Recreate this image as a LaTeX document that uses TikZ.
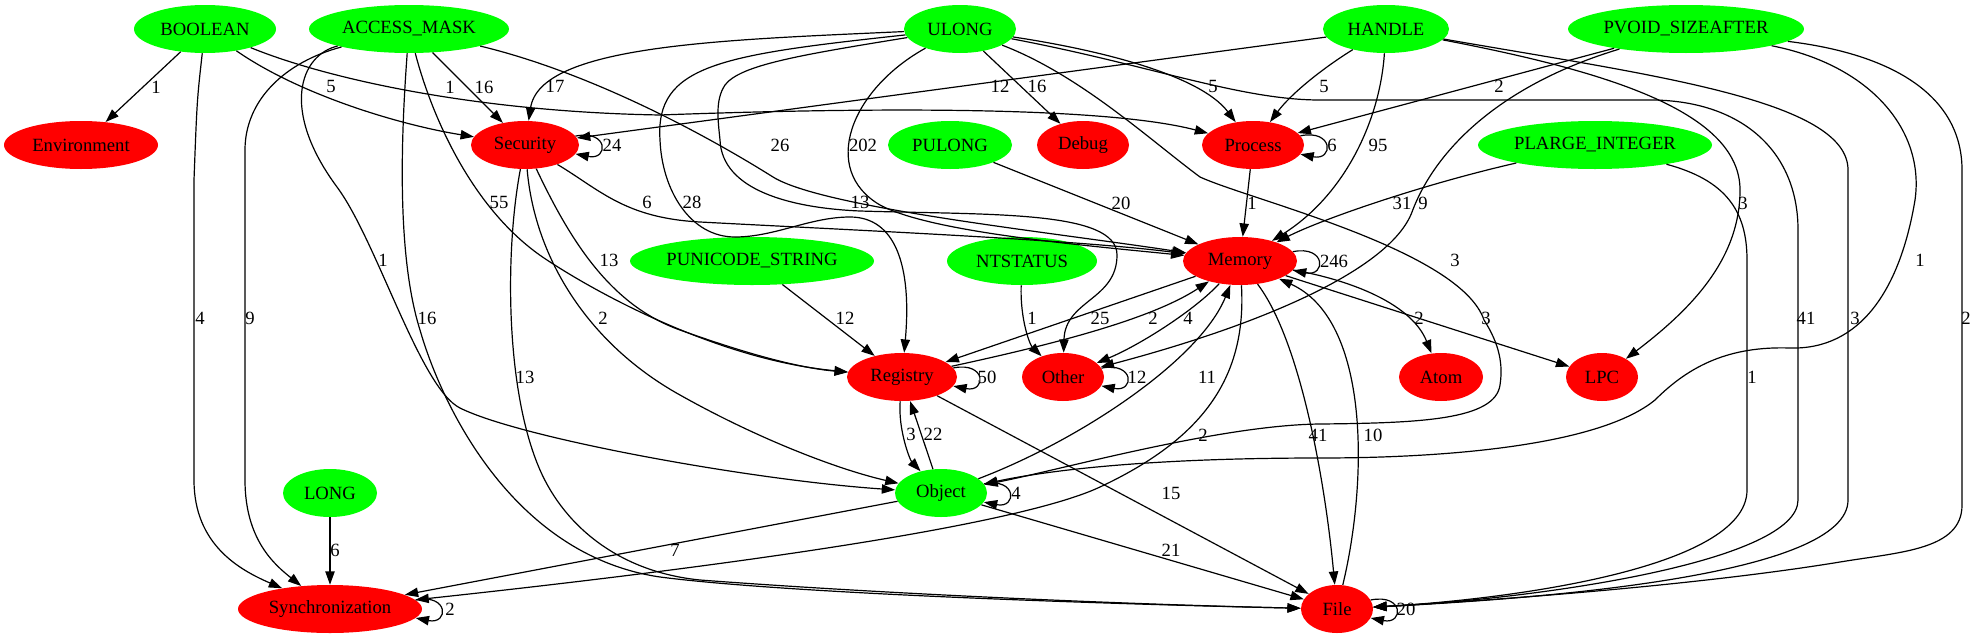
\documentclass[tikz,border=0pt]{standalone}
\usepackage{fontspec}
\setmainfont{Liberation Serif}
\usetikzlibrary{shapes.geometric,arrows.meta}
\definecolor{gvgreen}{RGB}{0,255,0}
\definecolor{gvred}{RGB}{255,0,0}
\begin{document}
\begin{tikzpicture}[x=0.75pt,y=-0.75pt,
  font=\fontsize{14}{17}\selectfont,
  nd/.style={ellipse, inner xsep=-10pt, inner ysep=0pt, minimum height=36pt},
  gn/.style={nd, fill=gvgreen},
  rn/.style={nd, fill=gvred},
  e/.style={draw=black, line width=0.9pt, -{Triangle[length=10pt,width=7pt]}},
  lbl/.style={inner sep=0pt}
]
\useasboundingbox (0,0) rectangle (1976,639);

% nodes
\node[gn, minimum width=106.5pt] (BOOL) at (205,29) {BOOLEAN};
\node[gn, minimum width=150pt] (AM) at (409,29) {ACCESS\_MASK};
\node[gn, minimum width=84pt] (ULONG) at (960,29) {ULONG};
\node[gn, minimum width=94.5pt] (HANDLE) at (1386,29) {HANDLE};
\node[gn, minimum width=177pt] (PVOID) at (1686,29) {PVOID\_SIZEAFTER};
\node[rn, minimum width=115.5pt] (ENV) at (81,145) {Environment};
\node[rn, minimum width=81pt] (SEC) at (525,145) {Security};
\node[gn, minimum width=93pt] (PULONG) at (950,145) {PULONG};
\node[rn, minimum width=69pt] (DEBUG) at (1083,145) {Debug};
\node[rn, minimum width=76.5pt] (PROC) at (1253,145) {Process};
\node[gn, minimum width=175.5pt] (PLARGE) at (1595,145) {PLARGE\_INTEGER};
\node[gn, minimum width=183pt] (PUNI) at (752,261) {PUNICODE\_STRING};
\node[gn, minimum width=112.5pt] (NTS) at (1022,261) {NTSTATUS};
\node[rn, minimum width=85.5pt] (MEM) at (1240,261) {Memory};
\node[rn, minimum width=82.5pt] (REG) at (902,377) {Registry};
\node[rn, minimum width=61.5pt] (OTH) at (1063,377) {Other};
\node[rn, minimum width=63pt] (ATOM) at (1441,377) {Atom};
\node[rn, minimum width=54pt] (LPC) at (1602,377) {LPC};
\node[gn, minimum width=70.5pt] (LONG) at (330,493) {LONG};
\node[gn, minimum width=69pt] (OBJ) at (941,493) {Object};
\node[rn, minimum width=138pt] (SYNC) at (330,609) {Synchronization};
\node[rn, minimum width=54pt] (FILE) at (1337,609) {File};

% BOOLEAN
\draw[e] (BOOL) -- (ENV);
\draw[e] (BOOL) .. controls (300,95) and (400,125) .. (SEC);
\draw[e] (BOOL) .. controls (330,80) and (480,112) .. (660,115) .. controls (850,108) and (1100,105) .. (PROC);
\draw[e] (BOOL) .. controls (197,100) .. (194,180) -- (194,480) .. controls (194,545) and (240,570) .. (SYNC);

% ACCESS_MASK
\draw[e] (AM) -- (SEC);
\draw[e] (AM) .. controls (430,110) and (470,210) .. (547,260) .. controls (600,295) and (720,360) .. (REG);
\draw[e] (AM) .. controls (300,55) and (280,110) .. (337,187) .. controls (377,241) and (420,388) .. (460,408) .. controls (520,438) and (750,480) .. (OBJ);
\draw[e] (AM) .. controls (285,62) and (245,100) .. (245,150) -- (245,480) .. controls (245,540) and (275,565) .. (SYNC);
\draw[e] (AM) .. controls (400,150) and (398,260) .. (420,330) .. controls (440,400) and (510,555) .. (660,577) .. controls (800,595) and (1150,605) .. (FILE);
\draw[e] (AM) .. controls (580,70) and (690,125) .. (773,177) .. controls (823,208) and (1050,232) .. (MEM);

% ULONG
\draw[e] (ULONG) .. controls (720,40) and (540,45) .. (SEC);
\draw[e] (ULONG) .. controls (720,55) and (655,65) .. (660,140) .. controls (662,190) and (690,237) .. (735,237) .. controls (775,237) and (810,217) .. (850,217) .. controls (895,217) and (912,265) .. (REG);
\draw[e] (ULONG) .. controls (850,90) and (820,170) .. (880,205) .. controls (930,232) and (1080,245) .. (MEM);
\draw[e] (ULONG) -- (DEBUG);
\draw[e] (ULONG) .. controls (1100,50) and (1200,75) .. (PROC);
\draw[e] (ULONG) .. controls (1080,75) and (1150,140) .. (1200,177) .. controls (1250,200) and (1460,250) .. (1484,320) .. controls (1500,345) and (1503,365) .. (1500,385) .. controls (1495,420) and (1420,423) .. (1320,424) .. controls (1220,425) and (1060,470) .. (OBJ);
\draw[e] (ULONG) .. controls (1150,65) and (1240,100) .. (1320,100) -- (1650,100) .. controls (1740,100) and (1798,150) .. (1798,230) -- (1798,500) .. controls (1798,560) and (1550,598) .. (FILE);
\draw[e] (ULONG) .. controls (800,55) and (740,65) .. (725,85) .. controls (715,100) and (718,120) .. (720,140) .. controls (722,190) and (790,208) .. (860,211) .. controls (990,215) and (1117,210) .. (1117,255) .. controls (1117,300) and (1065,300) .. (OTH);

% HANDLE
\draw[e] (HANDLE) -- (SEC);
\draw[e] (HANDLE) .. controls (1320,70) and (1290,95) .. (PROC);
\draw[e] (HANDLE) .. controls (1380,120) and (1345,195) .. (MEM);
\draw[e] (HANDLE) .. controls (1600,70) and (1740,110) .. (1740,190) .. controls (1740,260) and (1690,310) .. (LPC);
\draw[e] (HANDLE) .. controls (1650,75) and (1848,100) .. (1848,170) -- (1848,500) .. controls (1848,575) and (1550,598) .. (FILE);

% PVOID_SIZEAFTER
\draw[e] (PVOID) -- (PROC);
\draw[e] (PVOID) .. controls (1500,85) and (1435,150) .. (1412,212) .. controls (1390,270) and (1260,325) .. (OTH);
\draw[e] (PVOID) .. controls (1870,65) and (1925,130) .. (1915,200) .. controls (1900,290) and (1860,350) .. (1790,348) .. controls (1730,346) and (1690,365) .. (1655,400) .. controls (1600,445) and (1450,458) .. (1320,458) .. controls (1150,458) and (1050,470) .. (OBJ);
\draw[e] (PVOID) .. controls (1900,55) and (1962,100) .. (1962,170) -- (1962,505) .. controls (1962,550) and (1900,552) .. (1840,562) .. controls (1700,585) and (1500,600) .. (FILE);

% PLARGE_INTEGER
\draw[e] (PLARGE) .. controls (1420,185) and (1320,220) .. (MEM);
\draw[e] (PLARGE) .. controls (1725,180) and (1747,210) .. (1747,260) -- (1747,490) .. controls (1747,570) and (1500,600) .. (FILE);

% others into Memory / Other / Registry
\draw[e] (PULONG) -- (MEM);
\draw[e] (PROC) -- (MEM);
\draw[e] (NTS) .. controls (1020,320) and (1030,345) .. (OTH);
\draw[e] (PUNI) -- (REG);

% Memory
\draw[e] (MEM) -- (REG);
\draw[e] (REG) .. controls (1050,345) and (1150,320) .. (MEM);
\draw[e] (MEM) .. controls (1195,310) and (1140,345) .. (OTH);
\draw[e] (OBJ) .. controls (1080,440) and (1200,360) .. (MEM);
\draw[e] (MEM) .. controls (1247,380) and (1200,440) .. (1100,487) .. controls (1000,534) and (600,580) .. (SYNC);
\draw[e] (MEM) .. controls (1300,340) and (1325,480) .. (FILE);
\draw[e] (FILE) .. controls (1368,480) and (1370,320) .. (MEM);
\draw[e] (MEM) .. controls (1340,278) and (1410,300) .. (ATOM);
\draw[e] (MEM) -- (LPC);

% Registry / Object
\draw[e] (REG) .. controls (898,430) and (910,460) .. (OBJ);
\draw[e] (OBJ) -- (REG);
\draw[e] (REG) -- (FILE);
\draw[e] (OBJ) -- (FILE);
\draw[e] (OBJ) -- (SYNC);
\draw[e] (LONG) -- (SYNC);

% Security
\draw[e] (SEC) .. controls (600,190) and (625,218) .. (700,222) .. controls (850,230) and (1080,240) .. (MEM);
\draw[e] (SEC) .. controls (570,240) and (610,305) .. (680,330) .. controls (750,355) and (800,368) .. (REG);
\draw[e] (SEC) .. controls (535,260) and (590,345) .. (680,395) .. controls (760,440) and (840,470) .. (OBJ);
\draw[e] (SEC) .. controls (505,250) and (505,390) .. (540,470) .. controls (565,527) and (620,572) .. (700,580) .. controls (900,595) and (1150,605) .. (FILE);

% self loops
\draw[e] (SEC.10) .. controls +(25pt,5pt) and +(25pt,-5pt) .. (SEC.-10);
\draw[e] (PROC.11) .. controls +(25pt,5pt) and +(25pt,-5pt) .. (PROC.-11);
\draw[e] (MEM.10) .. controls +(25pt,5pt) and +(25pt,-5pt) .. (MEM.-10);
\draw[e] (REG.10) .. controls +(25pt,5pt) and +(25pt,-5pt) .. (REG.-10);
\draw[e] (OTH.13) .. controls +(25pt,5pt) and +(25pt,-5pt) .. (OTH.-13);
\draw[e] (OBJ.12) .. controls +(25pt,5pt) and +(25pt,-5pt) .. (OBJ.-12);
\draw[e] (SYNC.6) .. controls +(25pt,5pt) and +(25pt,-5pt) .. (SYNC.-6);
\draw[e] (FILE.15) .. controls +(25pt,5pt) and +(25pt,-5pt) .. (FILE.-15);

% edge labels
\node[lbl] (L1) at (156,87) {1};
\node[lbl] (L2) at (331,86) {5};
\node[lbl] (L3) at (450,87) {1};
\node[lbl] (L4) at (484,87) {16};
\node[lbl] (L5) at (555,86) {17};
\node[lbl] (L6) at (1000,86) {12};
\node[lbl] (L7) at (1037,86) {16};
\node[lbl] (L8) at (1213,86) {5};
\node[lbl] (L9) at (1324,86) {5};
\node[lbl] (L10) at (1499,86) {2};
\node[lbl] (L11) at (780,145) {26};
\node[lbl] (L12) at (863,145) {202};
\node[lbl] (L13) at (612,145) {24};
\node[lbl] (L14) at (1332,145) {6};
\node[lbl] (L15) at (1378,145) {95};
\node[lbl] (L16) at (499,202) {55};
\node[lbl] (L17) at (647,202) {6};
\node[lbl] (L18) at (692,202) {28};
\node[lbl] (L19) at (860,202) {13};
\node[lbl] (L20) at (1121,203) {20};
\node[lbl] (L21) at (1252,203) {1};
\node[lbl] (L22) at (1402,203) {31};
\node[lbl] (L23) at (1423,203) {9};
\node[lbl] (L24) at (1743,203) {3};
\node[lbl] (L25) at (383,260) {1};
\node[lbl] (L26) at (609,260) {13};
\node[lbl] (L27) at (1334,261) {246};
\node[lbl] (L28) at (1455,260) {3};
\node[lbl] (L29) at (1920,260) {1};
\node[lbl] (L30) at (200,318) {4};
\node[lbl] (L31) at (250,318) {9};
\node[lbl] (L32) at (427,318) {16};
\node[lbl] (L33) at (603,318) {2};
\node[lbl] (L34) at (845,318) {12};
\node[lbl] (L35) at (1032,318) {1};
\node[lbl] (L36) at (1100,318) {25};
\node[lbl] (L37) at (1153,318) {2};
\node[lbl] (L38) at (1188,318) {4};
\node[lbl] (L39) at (1419,318) {2};
\node[lbl] (L40) at (1486,318) {3};
\node[lbl] (L41) at (1806,318) {41};
\node[lbl] (L42) at (1855,318) {3};
\node[lbl] (L43) at (1966,318) {2};
\node[lbl] (L44) at (525,377) {13};
\node[lbl] (L45) at (987,377) {50};
\node[lbl] (L46) at (1137,377) {12};
\node[lbl] (L47) at (1207,377) {11};
\node[lbl] (L48) at (1752,377) {1};
\node[lbl] (L49) at (911,434) {3};
\node[lbl] (L50) at (933,434) {22};
\node[lbl] (L51) at (1203,435) {2};
\node[lbl] (L52) at (1318,435) {41};
\node[lbl] (L53) at (1373,435) {10};
\node[lbl] (L54) at (1016,493) {4};
\node[lbl] (L55) at (1171,493) {15};
\node[lbl] (L56) at (335,550) {6};
\node[lbl] (L57) at (675,550) {7};
\node[lbl] (L58) at (1171,550) {21};
\node[lbl] (L59) at (450,609) {2};
\node[lbl] (L60) at (1406,609) {20};
\end{tikzpicture}
\end{document}
